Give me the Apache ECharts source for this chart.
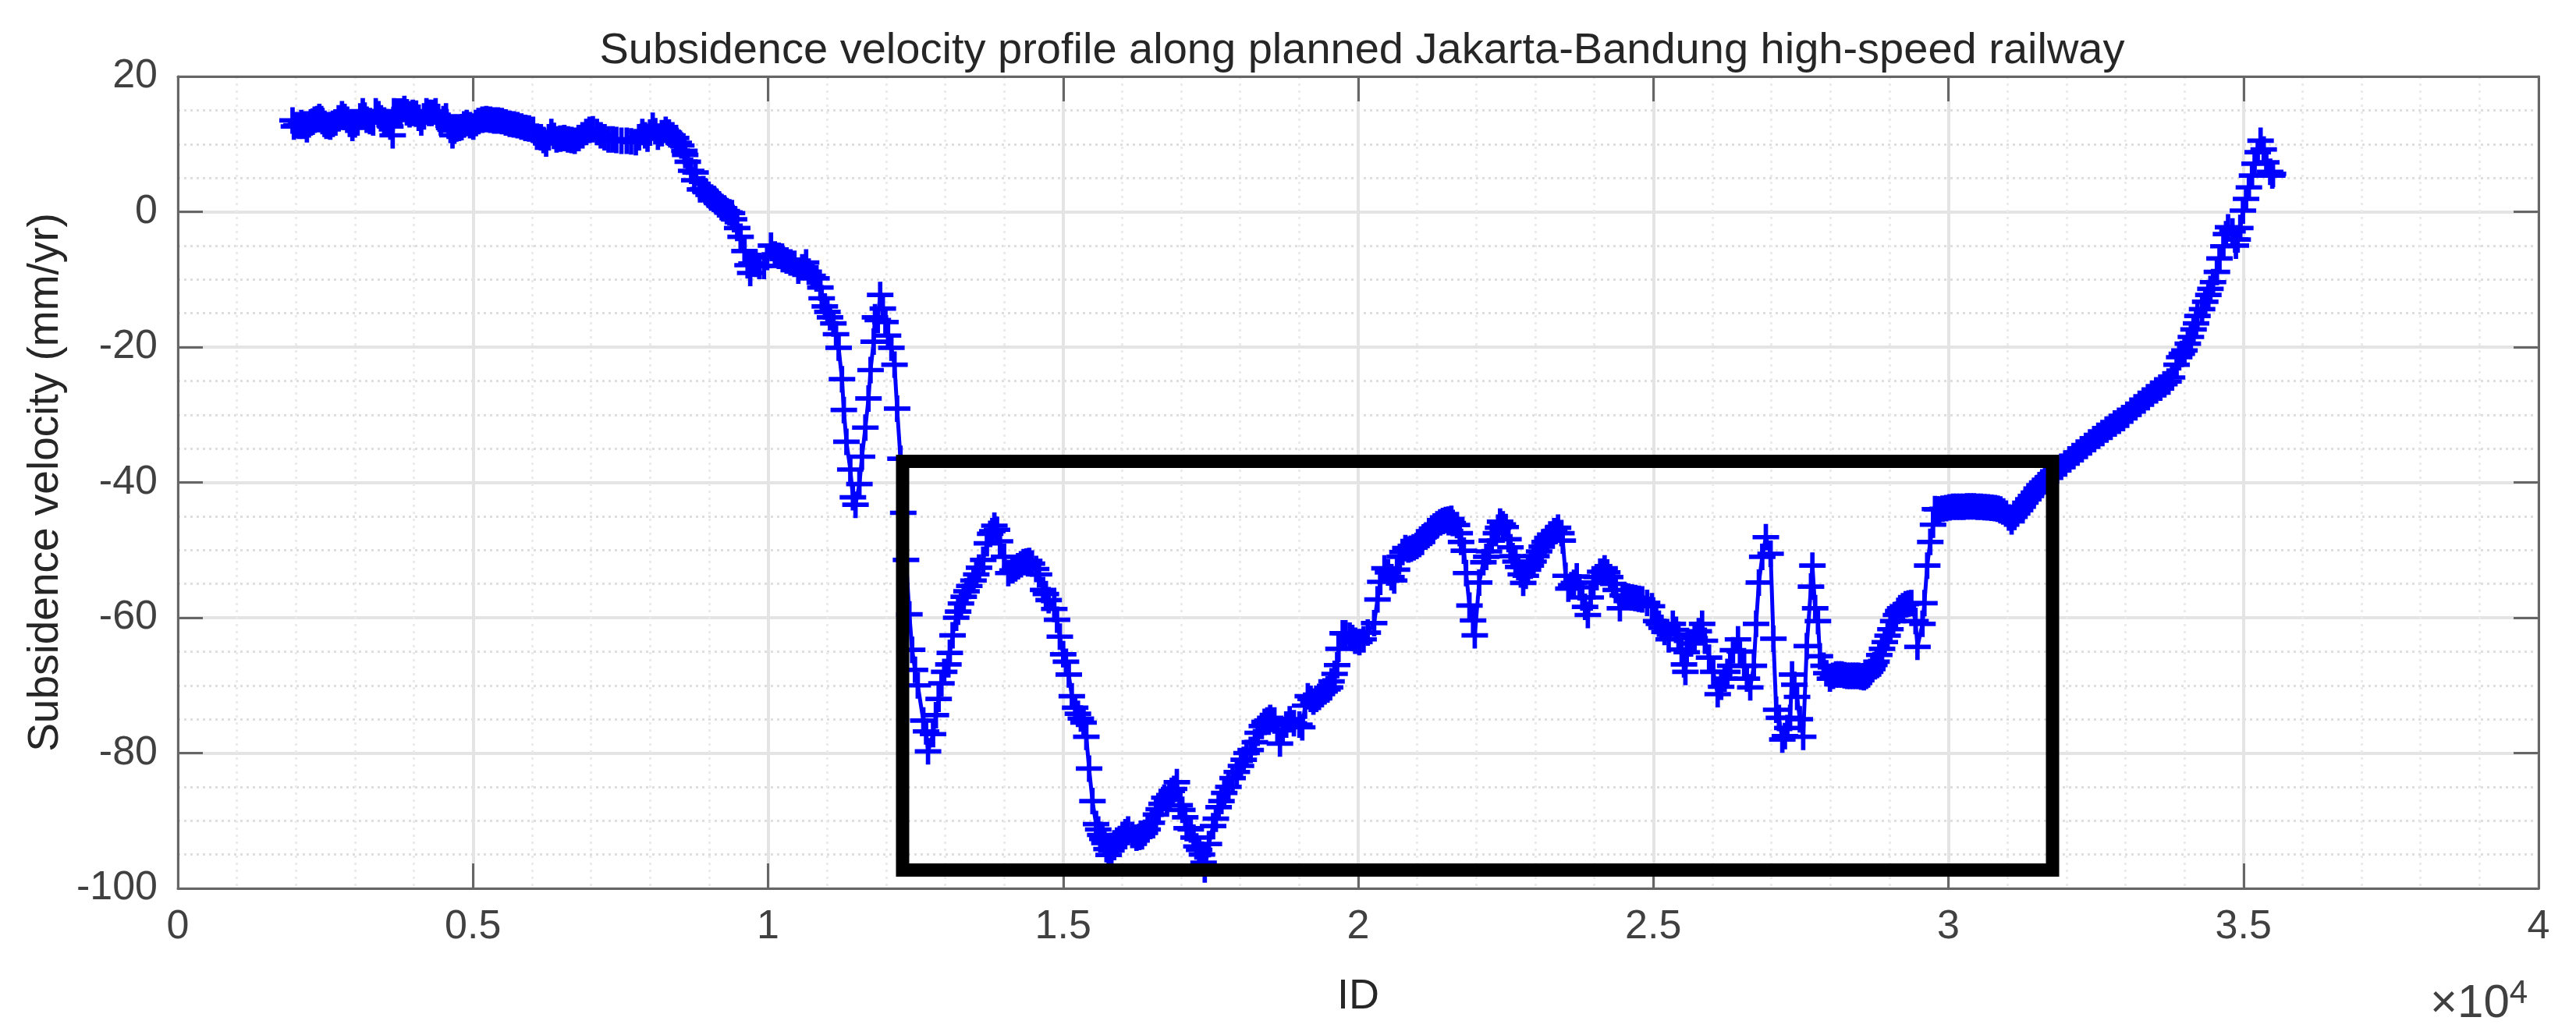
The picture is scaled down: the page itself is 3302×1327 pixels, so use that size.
<!DOCTYPE html>
<html>
<head>
<meta charset="utf-8">
<title>Subsidence velocity profile</title>
<script src="https://cdn.jsdelivr.net/npm/echarts@6/dist/echarts.min.js"></script>
<style>
  html, body { margin: 0; padding: 0; background: #fff; }
  #chart { width: 3302px; height: 1327px; }
</style>
</head>
<body>
<div id="chart"></div>
<script>
// [ID, velocity in mm/yr]
const northPlateau = [
  [1943,13.5],[1966,12.6],[2010,12.8],[2054,12.7],[2090,13.1],[2120,12.7],[2150,12.9],[2186,12.2],[2220,12.9],[2252,13.2],
  [2285,13.3],[2318,13.6],[2360,13.7],[2397,14.0],[2430,13.7],[2450,13.4],[2485,13.0],[2516,12.7],[2550,12.8],[2582,12.6],
  [2625,13.0],[2670,13.2],[2725,13.8],[2781,14.4],[2825,14.0],[2869,13.6],[2913,13.0],[2957,12.4],[3000,12.9],[3045,13.2],
  [3090,14.1],[3133,14.85],[3165,14.2],[3199,13.6],[3255,13.4],[3309,13.2],[3353,14.85],[3400,14.4],[3441,13.8],[3495,13.5],
  [3552,13.2],[3600,12.6],[3640,11.3],[3662,14.85],[3720,14.8],[3772,14.8],[3838,15.2],[3880,14.7],[3926,14.4],[3980,14.6],
  [4036,14.5],[4080,13.9],[4124,13.2],[4170,14.1],[4212,14.85],[4255,14.6],[4301,14.6],[4367,14.85],[4410,14.0],[4455,13.2],
  [4500,13.7],[4543,14.1],[4587,12.7],[4620,12.1],[4653,11.3],[4685,12.0],[4719,12.3],[4765,12.4],[4807,12.5],[4850,12.9],
  [4895,13.1],[4950,12.8],[5006,12.6],[5050,13.1],[5094,13.4],[5160,13.6],[5226,13.7],[5292,13.6],[5358,13.5],[5424,13.5],
  [5490,13.4],[5556,13.2],[5622,13.0],[5690,12.9],[5755,12.8],[5820,12.6],[5887,12.4],[5950,12.3],[6019,12.1],[6085,11.1],
  [6151,11.0],[6195,10.6],[6240,10.1],[6285,11.0],[6328,11.8],[6372,11.2],[6416,10.7],[6480,10.8],[6548,10.9],[6610,10.7],
  [6670,10.6],[6724,10.5],[6790,10.9],[6856,11.3],[6920,11.8],[6975,12.1],[7032,12.2],[7100,11.8],[7165,11.3],[7230,11.0],
  [7297,10.7],[7365,10.7],[7429,10.6],[7515,10.5],[7605,10.5],[7680,10.4],[7760,10.3],[7815,11.0],[7870,11.8],[7915,11.3],
  [7958,10.8],[8000,11.7],[8046,12.7],[8090,11.9],[8134,11.1],[8200,11.6],[8266,12.1],[8320,11.7],[8380,11.3]
];
const firstDescent = [
  [8442,10.9],[8486,10.2],[8530,9.8],[8583,9.0],[8596,8.4],[8640,7.4],[8697,6.05],[8750,4.65],[8772,5.8],[8847,3.3],
  [8905,3.35],[8949,2.9],[8993,2.5],[9037,2.1],[9081,1.9],[9125,1.5],[9169,1.1],[9213,0.7],[9257,0.5],[9301,0.1],
  [9345,-0.1],[9389,-0.2],[9424,-1.1],[9477,-2.4],[9535,-3.7],[9601,-5.8],[9653,-7.9],[9698,-9.05],[9720,-7.66],[9786,-7.7],
  [9852,-8.0],[9931,-8.0],[9984,-6.7],[10050,-5.0],[10116,-6.3],[10182,-6.5],[10248,-7.0],[10314,-7.2],[10380,-7.5],[10447,-7.7],
  [10513,-8.7],[10579,-8.2],[10645,-7.5],[10689,-8.85],[10755,-9.45],[10821,-9.85],[10887,-11.2],[10909,-12.8],[10962,-14.0],[11006,-14.8],
  [11050,-15.6],[11107,-16.5],[11152,-18.1],[11196,-20.1],[11253,-24.75],[11284,-29.3],[11328,-34.0],[11394,-38.1],[11438,-42.2],[11482,-43.3]
];
const secondPeak = [
  [11548,-40.25],[11592,-36.2],[11649,-31.9],[11702,-27.6],[11737,-23.4],[11790,-19.2],[11812,-15.6],[11860,-16],[11900,-12.3],[11945,-14.3],
  [11989,-16.3],[12033,-18.3],[12090,-20.1],[12143,-22.6],[12187,-29.1],[12244,-36.5],[12291,-44.5]
];
const boxedFall = [
  [12338,-51.45],[12395,-59.5],[12442,-64.75],[12490,-67.7],[12537,-70],[12631,-75.2],[12678,-76.8],[12711,-79.75],[12796,-77.2],[12844,-74.4],
  [12891,-72],[12938,-69.7],[12985,-68],[13056,-66.9],[13080,-65.2],[13127,-62.6],[13188,-60],[13221,-59.1],[13269,-57.9],[13316,-56.9],
  [13363,-56.1],[13410,-55.3],[13481,-54.5],[13528,-53.6],[13575,-52.6],[13646,-51.45],[13708,-49],[13764,-47.6],[13800,-47.2],[13835,-46.4],
  [13880,-47],[13930,-48.7],[14000,-51],[14071,-53.4],[14142,-53],[14190,-52.7],[14236,-52.4],[14285,-52.1],[14331,-51.8],[14380,-51.7],
  [14425,-51.6],[14472,-52],[14543,-52.8],[14591,-53.6],[14661,-55.9],[14708,-56.5],[14755,-57.4],[14850,-58.7],[14897,-60.3],[14944,-62.8],
  [15001,-65.4],[15048,-66.5],[15096,-68.4],[15147,-71.6],[15204,-73.3],[15251,-74.2],[15300,-74.9],[15346,-75.5],[15393,-77.6],[15440,-82.3],
  [15497,-87.1],[15558,-90.5],[15595,-91.3],[15629,-92.1],[15665,-92.7],[15700,-93.3],[15735,-94.2],[15771,-95.05],[15818,-94.4],[15865,-93.9],
  [15912,-93.3],[15960,-92.7],[16007,-92.1],[16055,-91.7],[16101,-91.3],[16172,-92.1],[16243,-92.5],[16290,-92.4],[16337,-92.3],[16385,-91.8],
  [16432,-91.3],[16502,-90.3],[16573,-89.1],[16620,-88.3],[16668,-87.5],[16715,-86.6],[16760,-86.9],[16800,-86.2],[16840,-85.6],[16880,-85.3],
  [16927,-84.3],[16975,-87.7],[17020,-88.4],[17069,-89.5],[17093,-91.1],[17163,-91.3],[17210,-92.5],[17258,-93.8],[17305,-94.3],[17352,-95],
  [17380,-96.2],[17400,-97.2],[17470,-93.45],[17541,-90.8],[17588,-89.7],[17635,-88],[17683,-87.1],[17730,-85.9],[17801,-85],[17872,-83.7],
  [17943,-82.8],[18013,-81.9],[18060,-81],[18108,-80],[18178,-79.55],[18249,-78.4],[18297,-77],[18367,-76],[18414,-75.4],[18460,-75.2],
  [18509,-74.8],[18580,-75.2],[18630,-76.5],[18674,-78.6],[18721,-76.6],[18780,-75.8],[18839,-75],[18910,-75.6],[19004,-75.8],[19052,-76.2]
];
const boxedRise = [
  [19100,-73],[19146,-71.6],[19194,-72],[19241,-72.4],[19290,-72],[19336,-71.7],[19385,-71.3],[19430,-70.9],[19480,-70.6],[19524,-70.3],
  [19548,-69.4],[19600,-68.3],[19643,-67],[19666,-64.6],[19737,-62.3],[19784,-62.3],[19855,-62.65],[19900,-63],[19949,-63.4],[20020,-63.6],
  [20091,-63.2],[20162,-62.2],[20270,-60.8],[20327,-57.3],[20374,-54.7],[20445,-52.7],[20505,-53.3],[20563,-54],[20610,-54.5],[20657,-52.9],
  [20705,-51],[20750,-50.3],[20799,-49.7],[20850,-49.9],[20894,-49.8],[20940,-49.6],[20988,-49.4],[21035,-49.1],[21082,-48.8],[21140,-48],
  [21200,-47.2],[21250,-46.8],[21295,-46.5],[21340,-46.2],[21389,-45.9],[21435,-45.7],[21484,-45.55],[21530,-45.5],[21578,-45.4],[21602,-46],
  [21673,-46.3],[21720,-47.5],[21743,-48.8],[21790,-50.1],[21828,-53.4],[21885,-58.2],[21946,-60.4],[21975,-62.6],[22050,-54.8],[22121,-51.8],
  [22170,-51],[22215,-50.2],[22263,-48.6],[22334,-47.5],[22370,-46.7],[22404,-45.8],[22450,-46.2],[22499,-46.6],[22546,-48.4],[22580,-49.6],
  [22617,-50.9],[22665,-51.7],[22711,-52.5],[22755,-53.6],[22796,-54.85],[22840,-53.8],[22877,-52.9],[22925,-52.3],[22971,-51.7],[23020,-50.9],
  [23065,-50.2],[23110,-49.5],[23160,-48.8],[23205,-48.2],[23254,-47.7],[23320,-47.2],[23386,-46.7],[23443,-47.5],[23466,-48.6],[23514,-53.8],
  [23561,-55.7],[23610,-55.2],[23655,-54.85],[23703,-53.9],[23750,-55.5],[23797,-57],[23844,-58.4],[23891,-59.6],[23940,-57],[23985,-54.8],
  [24040,-54],[24100,-53.2],[24175,-52.7],[24220,-53.3],[24269,-54],[24320,-55],[24364,-55.9],[24434,-58.6],[24482,-56.7],[24530,-56.8],
  [24576,-56.9],[24635,-57],[24694,-57.1],[24755,-57.2],[24812,-57.3],[24895,-57.8],[24977,-58.3],[25048,-60.5],[25095,-60.9],[25140,-61.5],
  [25190,-62.1],[25261,-63.2],[25331,-60.9],[25385,-61.8],[25426,-62.5],[25480,-64.7],[25520,-66.9],[25544,-68],[25567,-65.1],[25640,-63.8],
  [25700,-63],[25770,-62],[25827,-60.9],[25874,-63.4],[25945,-65.9],[26016,-68],[26091,-71.3],[26150,-70.2]
];
const boxedTail = [
  [26209,-69],[26255,-68],[26303,-67.1],[26350,-64.8],[26435,-63.2],[26468,-65],[26539,-67.1],[26586,-69],[26643,-70.3],[26704,-67.1],
  [26742,-60.9],[26789,-54.8],[26846,-51],[26907,-48.1],[26988,-50.55],[27035,-63.1],[27082,-73.6],[27129,-74.8],[27186,-78],[27230,-77.5],
  [27271,-76.3],[27318,-74.8],[27351,-68.4],[27390,-69.9],[27436,-71.7],[27483,-75],[27540,-77.6],[27601,-64.2],[27672,-55.4],[27696,-52.3],
  [27743,-58.6],[27790,-60.5],[27823,-65.7],[27885,-67.1],[27932,-68.2],[27993,-69],[28045,-68.6],[28097,-68.4],[28145,-68.4],[28191,-68.4],
  [28240,-68.5],[28286,-68.6],[28335,-68.6],[28380,-68.6],[28430,-68.6],[28475,-68.6],[28520,-68.7],[28569,-68.8],[28605,-68.6],[28640,-68.4],
  [28675,-68],[28711,-67.6],[28745,-67],[28782,-66.5],[28829,-65.5],[28876,-64.6],[28923,-63.6],[28970,-62.65],[29018,-61.7],[29065,-60.5],
  [29112,-59.6],[29150,-59],[29183,-58.6],[29230,-58.3],[29277,-58],[29325,-57.9],[29372,-57.85],[29443,-60.5],[29476,-64.3],[29561,-60.9],
  [29594,-57.85],[29641,-52.3],[29693,-48.8],[29740,-46.25],[29773,-43.95]
];
const flatStretch = [
  [29810,-44],[29844,-44],[29900,-43.9],[29962,-43.8],[30020,-43.7],[30080,-43.6],[30140,-43.6],[30198,-43.6],[30255,-43.6],[30316,-43.55],
  [30375,-43.55],[30434,-43.55],[30495,-43.6],[30552,-43.6],[30610,-43.65],[30670,-43.7],[30730,-43.75],[30788,-43.8],[30835,-43.9],[30882,-44],
  [30930,-44.3],[30977,-44.6],[31025,-45.2],[31071,-45.75],[31120,-45.1],[31166,-44.6],[31215,-44.1],[31260,-43.6],[31305,-43],[31355,-42.5],
  [31400,-42],[31449,-41.5],[31495,-40.9],[31543,-40.4],[31590,-40],[31638,-39.6]
];
const southRamp = [
  [31700,-39.2],[31770,-38.7],[31840,-38.2],[31910,-37.7],[31980,-37.2],[32050,-36.6],[32120,-36.1],[32190,-35.6],[32260,-35.1],[32330,-34.6],
  [32400,-34.1],[32470,-33.6],[32540,-33.1],[32610,-32.7],[32680,-32.2],[32750,-31.8],[32820,-31.3],[32890,-30.9],[32960,-30.5],[33030,-30],
  [33100,-29.4],[33170,-28.9],[33240,-28.4],[33310,-27.9],[33380,-27.4],[33450,-26.9],[33520,-26.4],[33590,-26],[33660,-25.5],[33730,-25.1],
  [33790,-24.5],[33867,-22.6],[33911,-21.5],[33955,-21],[34000,-20.5],[34057,-19.5],[34109,-18.5],[34154,-17.4],[34197,-16.5],[34220,-15.4],
  [34299,-14.4],[34352,-13.3],[34405,-12.3],[34440,-11.4],[34484,-10.4],[34550,-8.9],[34594,-6.9],[34660,-5.1],[34704,-3.3],[34739,-2.3],
  [34814,-2.9],[34858,-4.1],[34872,-5],[34902,-4.1],[34946,-2.4],[34991,0.17],[35044,1.9],[35092,3.6],[35145,5.35],[35189,7.1],
  [35242,8.8],[35290,10.5],[35343,9.2],[35387,7.3],[35453,5.9],[35488,5.35],[35500,5.6]
];

const boxIds = [12280, 31765, 31765, 12280, 12280];
const boxVelocity = [-36.9, -36.9, -97.3, -97.3, -36.9];

const profile = [].concat(northPlateau, firstDescent, secondPeak, boxedFall, boxedRise, boxedTail, flatStretch, southRamp);

const FONT = "Liberation Sans";
const PLUS = "path://M13.75 0H19.25V13.75H33V19.25H19.25V33H13.75V19.25H0V13.75H13.75Z";

const chart = echarts.init(document.getElementById("chart"), null, { renderer: "canvas" });

const frame = { show: true, onZero: false, lineStyle: { color: "#666", width: 3 } };
const tick = { show: true, inside: true, length: 32, lineStyle: { color: "#666", width: 3 } };
const major = { show: true, lineStyle: { color: "#e4e4e4", width: 4 } };

const xBase = { type: "value", min: 0, max: 40000, interval: 5000, axisLine: frame, axisTick: tick };
const yBase = { type: "value", min: -100, max: 20, interval: 20, axisLine: frame, axisTick: tick };

chart.setOption({
  animation: false,
  backgroundColor: "#fff",
  textStyle: { fontFamily: FONT },
  title: [
    {
      text: "Subsidence velocity profile along planned Jakarta-Bandung high-speed railway",
      left: 1741,
      top: 33,
      textAlign: "center",
      textStyle: { fontFamily: FONT, fontSize: 56, fontWeight: "normal", color: "#262626" },
    },
    {
      text: "×10{sup|4}",
      left: 3110,
      top: 1248,
      textStyle: {
        fontFamily: FONT,
        fontSize: 60,
        fontWeight: "normal",
        color: "#404040",
        rich: { sup: { fontFamily: FONT, fontSize: 42, color: "#404040", verticalAlign: "top", padding: [0, 0, 26, 0] } },
      },
    },
  ],
  grid: { left: 228, right: 48, top: 98, height: 1041 },
  xAxis: [
    {
      ...xBase,
      position: "bottom",
      name: "ID",
      nameLocation: "middle",
      nameGap: 112,
      nameTextStyle: { fontFamily: FONT, fontSize: 54, color: "#262626" },
      axisLabel: { fontFamily: FONT, fontSize: 52, color: "#404040", margin: 24, formatter: (v) => String(v / 10000) },
      splitLine: major,
      minorTick: { show: false, splitNumber: 5 },
      minorSplitLine: { show: true, lineStyle: { color: "#ebebeb", width: 3, type: [3, 6] } },
    },
    { ...xBase, position: "top", axisLabel: { show: false }, splitLine: { show: false } },
  ],
  yAxis: [
    {
      ...yBase,
      position: "left",
      name: "Subsidence velocity (mm/yr)",
      nameLocation: "middle",
      nameGap: 142,
      nameTextStyle: { fontFamily: FONT, fontSize: 55, color: "#262626" },
      axisLabel: { fontFamily: FONT, fontSize: 52, color: "#404040", margin: 26 },
      splitLine: major,
      minorTick: { show: false, splitNumber: 4 },
      minorSplitLine: { show: true, lineStyle: { color: "#dedede", width: 3, type: [3, 5] } },
    },
    { ...yBase, position: "right", axisLabel: { show: false }, splitLine: { show: false } },
  ],
  series: [
    {
      type: "line",
      data: profile,
      xAxisIndex: 0,
      yAxisIndex: 0,
      showSymbol: true,
      showAllSymbol: true,
      symbol: PLUS,
      symbolSize: 34,
      itemStyle: { color: "#0000ff" },
      lineStyle: { color: "#0000ff", width: 5 },
      silent: true,
      z: 3,
    },
    {
      type: "line",
      data: boxIds.map((id, i) => [id, boxVelocity[i]]),
      xAxisIndex: 0,
      yAxisIndex: 0,
      showSymbol: false,
      lineStyle: { color: "#000", width: 17, join: "miter", cap: "square" },
      silent: true,
      z: 5,
    },
  ],
});
</script>
</body>
</html>
